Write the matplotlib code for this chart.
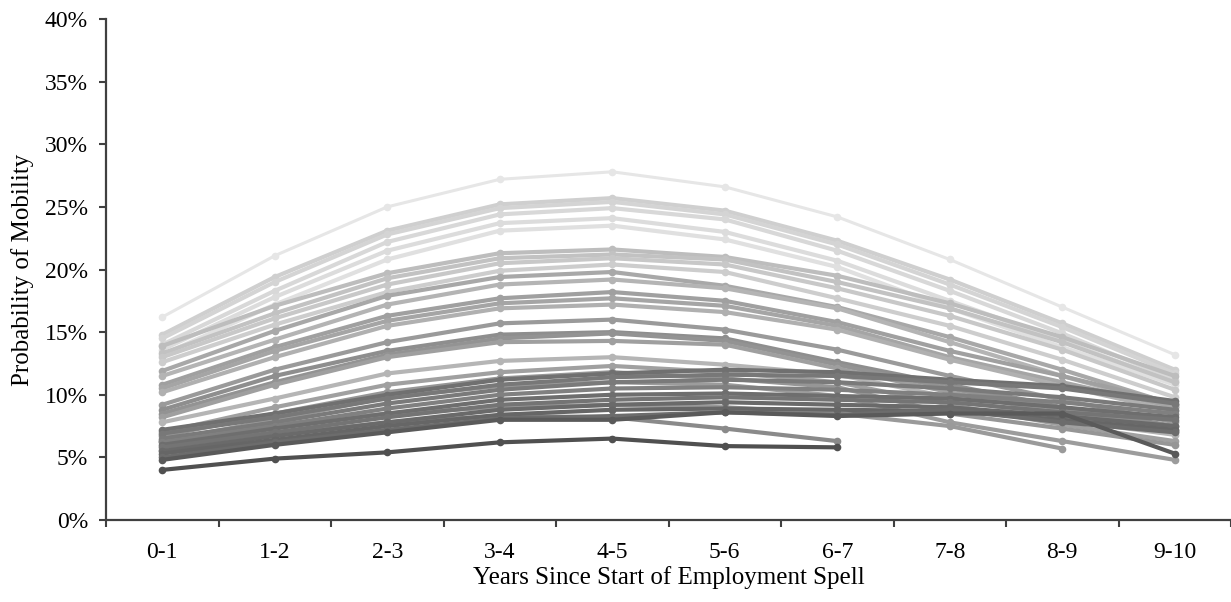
import numpy as np
import matplotlib.pyplot as plt
from matplotlib.ticker import FixedLocator, PercentFormatter

nan = np.nan

# categories on the x axis
years = ["0-1", "1-2", "2-3", "3-4", "4-5", "5-6", "6-7", "7-8", "8-9", "9-10"]

# probability of mobility (%) for each series
# light band (highest curves)
s01 = [16.2, 21.1, 25.0, 27.2, 27.8, 26.6, 24.2, 20.8, 17.0, 13.2]
s02 = [14.8, 19.4, 23.1, 25.2, 25.7, 24.7, 22.3, 19.2, 15.7, 12.0]
s03 = [14.5, 19.0, 22.8, 24.9, 25.4, 24.4, 22.0, 18.8, 15.4, 11.7]
s04 = [14.0, 18.3, 22.2, 24.4, 24.9, 24.0, 21.5, 18.3, 14.9, 11.2]
s05 = [13.6, 17.8, 21.5, 23.7, 24.1, 23.0, 20.7, 17.5, 14.3, 11.0]
s06 = [13.2, 17.2, 20.8, 23.1, 23.5, 22.4, 20.2, 16.9, 13.8, 10.8]
# second band
s07 = [13.9, 17.1, 19.7, 21.3, 21.6, 21.0, 19.5, 17.3, 14.6, 11.5]
s08 = [13.3, 16.5, 19.3, 20.9, 21.2, 20.8, 19.0, 16.9, 14.2, 11.0]
s09 = [13.0, 16.1, 18.8, 20.5, 20.9, 20.4, 18.5, 16.3, 13.6, 10.4]
s10 = [12.6, 15.6, 18.2, 19.9, 20.4, 19.8, 17.7, 15.5, 12.8, 9.8]
s11 = [11.9, 15.1, 17.9, 19.4, 19.8, 18.7, 17.0, 14.6, 12.0, 9.2]
s12 = [11.5, 14.4, 17.2, 18.8, 19.2, 18.5, 16.9, 14.2, 11.5, 9.0]
# third band
s13 = [10.8, 13.8, 16.3, 17.7, 18.2, 17.5, 15.8, 13.5, 11.5, 9.3]
s14 = [10.5, 13.5, 15.9, 17.3, 17.7, 17.1, 15.5, 13.0, 11.0, 9.0]
s15 = [10.2, 13.0, 15.5, 16.9, 17.2, 16.6, 15.2, 12.8, 10.7, 8.7]
s16 = [9.2, 12.0, 14.2, 15.7, 16.0, 15.2, 13.6, 11.5, 9.6, 7.8]
s17 = [8.8, 11.5, 13.5, 14.8, 15.0, 14.5, 12.6, 10.8, 9.0, 7.5]
s18 = [8.5, 11.0, 13.2, 14.5, 14.9, 14.3, 12.4, 10.5, 8.8, 7.2]
s19 = [8.2, 10.8, 13.0, 14.2, 14.3, 14.0, 12.1, 10.2, 8.5, 7.0]
# lower lighter lines
s20 = [7.8, 9.7, 11.7, 12.7, 13.0, 12.4, 11.6, 9.8, 8.0, 6.8]
s21 = [7.0, 9.0, 10.8, 11.8, 12.3, 11.8, 11.0, 9.2, 7.6, 6.3]
s22 = [6.7, 8.5, 10.2, 11.3, 11.8, 11.3, 10.6, 8.5, 7.3, 6.0]
s23 = [6.3, 8.0, 9.8, 10.7, 11.0, 10.8, 9.9, 7.8, 6.3, 4.8]
s24 = [6.3, 7.6, 8.5, 9.0, 9.2, 9.0, 8.5, 7.5, 5.7, nan]
s25 = [5.6, 6.8, 7.8, 8.3, 8.2, 7.3, 6.3, nan, nan, nan]
# dark flat lines
s26 = [7.2, 8.5, 10.0, 11.2, 11.7, 12.0, 11.8, 11.2, 10.7, 9.5]
s27 = [6.9, 8.2, 9.7, 10.8, 11.4, 11.6, 11.5, 11.0, 10.5, 9.3]
s28 = [6.5, 7.8, 9.3, 10.4, 11.0, 11.2, 11.0, 10.5, 9.8, 8.8]
s29 = [6.2, 7.5, 8.9, 10.0, 10.5, 10.6, 10.4, 10.0, 9.4, 8.5]
s30 = [6.0, 7.3, 8.5, 9.6, 10.0, 10.1, 9.9, 9.7, 9.0, 8.2]
s31 = [5.8, 7.0, 8.2, 9.2, 9.6, 9.8, 9.6, 9.4, 8.6, 8.0]
s32 = [5.5, 6.7, 7.8, 8.8, 9.2, 9.4, 9.2, 9.0, 8.3, 7.5]
s33 = [5.3, 6.4, 7.5, 8.4, 8.8, 8.9, 8.8, 8.7, 8.0, 7.2]
s34 = [5.0, 6.2, 7.2, 8.1, 8.3, 8.6, 8.4, 8.8, 7.8, 7.0]
s35 = [4.8, 6.0, 7.0, 8.0, 8.0, 8.6, 8.3, 8.5, 8.5, 5.3]
s36 = [4.0, 4.9, 5.4, 6.2, 6.5, 5.9, 5.8, nan, nan, nan]

series = [s01, s02, s03, s04, s05, s06, s07, s08, s09, s10, s11, s12,
          s13, s14, s15, s16, s17, s18, s19, s20, s21, s22, s23, s24,
          s25, s26, s27, s28, s29, s30, s31, s32, s33, s34, s35, s36]
shades = ["#e6e6e6", "#cfcfcf", "#d4d4d4", "#d8d8d8", "#dcdcdc", "#e0e0e0",
          "#bdbdbd", "#c2c2c2", "#c8c8c8", "#cdcdcd", "#a8a8a8", "#b4b4b4",
          "#a0a0a0", "#a5a5a5", "#b0b0b0", "#9a9a9a", "#8e8e8e", "#939393",
          "#9f9f9f", "#b5b5b5", "#a0a0a0", "#969696", "#9c9c9c", "#9a9a9a",
          "#8a8a8a", "#707070", "#787878", "#7a7a7a", "#808080", "#6e6e6e",
          "#747474", "#6a6a6a", "#666666", "#6c6c6c", "#5a5a5a", "#505050"]

plt.rcParams['font.family'] = ['Liberation Serif', 'DejaVu Serif']

fig = plt.figure(figsize=(12.31, 6.02), dpi=100)
ax = fig.add_axes([106 / 1231, 82 / 602, 1125 / 1231, 501 / 602])

x = np.arange(len(years))
for vals, c in zip(series, shades):
    lw = 2.2 if c == "#e6e6e6" else 3.0
    ax.plot(x, vals, color=c, linewidth=lw, marker='o', markersize=5.5,
            markeredgewidth=0, solid_capstyle='round')

ax.set_xlim(-0.5, len(years) - 0.5)
ax.set_ylim(0, 40)
ax.set_yticks(np.arange(0, 41, 5))
ax.yaxis.set_major_formatter(PercentFormatter(decimals=0))
ax.set_xticks(x)
ax.set_xticklabels(years)
ax.xaxis.set_minor_locator(FixedLocator(np.arange(-0.5, len(years), 1.0)))
ax.tick_params(axis='x', which='major', length=0, pad=16, labelsize=17)
ax.tick_params(axis='x', which='minor', length=5, width=1.5, color='#404040',
               direction='out')
ax.tick_params(axis='y', length=5, width=1.5, color='#404040', pad=8,
               labelsize=17)

for side in ['top', 'right']:
    ax.spines[side].set_visible(False)
for side in ['left', 'bottom']:
    ax.spines[side].set_color('#404040')
    ax.spines[side].set_linewidth(1.6)

ax.set_xlabel('Years Since Start of Employment Spell', fontsize=18, labelpad=2)
ax.set_ylabel('Probability of Mobility', fontsize=18, labelpad=8)

fig.savefig('out.png', dpi=100)
